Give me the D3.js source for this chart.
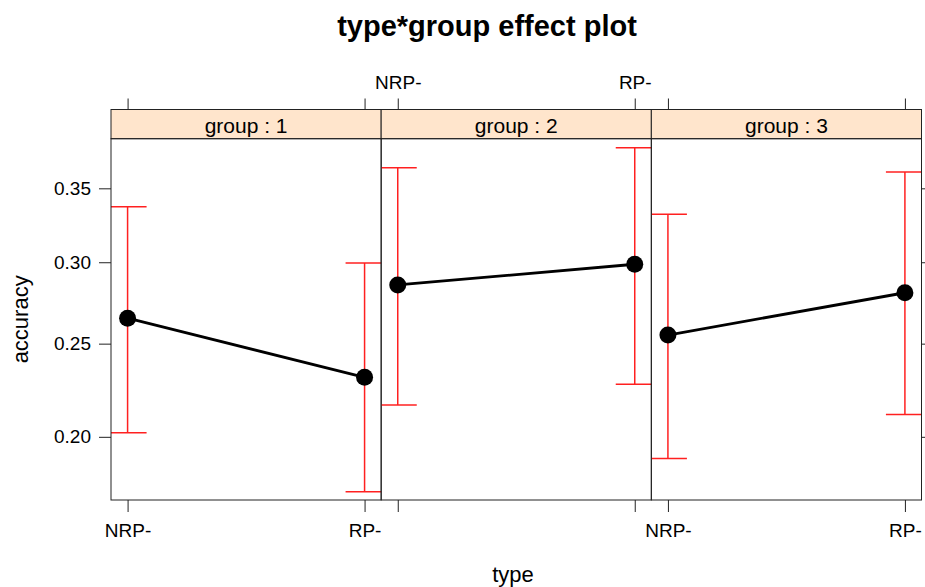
<!DOCTYPE html>
<html>
<head>
<meta charset="utf-8">
<script src="https://cdn.jsdelivr.net/npm/d3@7"></script>
<style>
  body { margin: 0; background: #fff; }
  text { font-family: "Liberation Sans", Arial, sans-serif; fill: #000; }
</style>
</head>
<body>
<div id="chart"></div>
<script>
// effect plot data
const groups = ["1", "2", "3"]
const types = ["NRP-", "RP-"]
const fitG1 = [0.265, 0.231]
const fitG2 = [0.2855, 0.2987]
const fitG3 = [0.255, 0.2806]
const lowerG1 = [0.202, 0.1742]
const lowerG2 = [0.2162, 0.2273]
const lowerG3 = [0.1895, 0.2113]
const upperG1 = [0.3372, 0.2995]
const upperG2 = [0.3646, 0.379]
const upperG3 = [0.332, 0.3616]
const yTicks = [0.20, 0.25, 0.30, 0.35]

const fits = [fitG1, fitG2, fitG3]
const lowers = [lowerG1, lowerG2, lowerG3]
const uppers = [upperG1, upperG2, upperG3]

var width = 925
var height = 587
var left = 111, right = 921.5
var stripTop = 109.5, panelTop = 138.7, panelBottom = 500

var logit = function(p) { return Math.log(p / (1 - p)) }

// y is on the logit scale, labels in probabilities
let yScale = d3.scaleLinear()
  .domain([logit(0.1706), logit(0.3856)])
  .range([panelBottom, panelTop])
var y = function(p) { return yScale(logit(p)) }

let panelScale = d3.scaleBand()
  .domain(groups)
  .range([left, right])

var svg = d3.select("#chart").append("svg")
  .attr("width", width)
  .attr("height", height)

svg.append("text")
  .attr("x", 487)
  .attr("y", 36)
  .attr("text-anchor", "middle")
  .style("font-weight", "bold")
  .style("font-size", "29px")
  .text("type*group effect plot")

groups.forEach(function(g, gi) {
  var x0 = panelScale(g), x1 = x0 + panelScale.bandwidth()
  let xScale = d3.scalePoint()
    .domain(types)
    .range([x0, x1])
    .padding(0.07)

  svg.append("clipPath").attr("id", "clip" + gi)
    .append("rect")
    .attr("x", x0).attr("y", panelTop)
    .attr("width", x1 - x0).attr("height", panelBottom - panelTop)

  var panel = svg.append("g")

  // strip
  panel.append("rect")
    .attr("x", x0).attr("y", stripTop)
    .attr("width", x1 - x0).attr("height", panelTop - stripTop)
    .style("fill", "#ffe5cc")
    .style("stroke", "#222")
  panel.append("text")
    .attr("x", (x0 + x1) / 2)
    .attr("y", panelTop - 6)
    .attr("text-anchor", "middle")
    .style("font-size", "21px")
    .text("group : " + g)

  // error bars
  var bars = panel.append("g").attr("clip-path", "url(#clip" + gi + ")")
  types.forEach(function(t, ti) {
    var cx = xScale(t)
    bars.append("line")
      .attr("x1", cx).attr("x2", cx)
      .attr("y1", y(lowers[gi][ti])).attr("y2", y(uppers[gi][ti]))
      .style("stroke", "#ff2020").style("stroke-width", 1.5)
    ;[lowers[gi][ti], uppers[gi][ti]].forEach(function(v) {
      bars.append("line")
        .attr("x1", cx - 19).attr("x2", cx + 19)
        .attr("y1", y(v)).attr("y2", y(v))
        .style("stroke", "#ff2020").style("stroke-width", 1.5)
    })
  })

  var valueline = d3.line()
    .x(function(d, i) { return xScale(types[i]) })
    .y(function(d) { return y(d) })
  panel.append("path")
    .datum(fits[gi])
    .attr("d", valueline)
    .style("fill", "none")
    .style("stroke", "#000")
    .style("stroke-width", 2.8)

  panel.selectAll("circle")
    .data(fits[gi])
    .enter()
    .append("circle")
    .attr("cx", function(d, i) { return xScale(types[i]) })
    .attr("cy", function(d) { return y(d) })
    .attr("r", 8.5)
    .style("fill", "#000")

  // panel box
  panel.append("rect")
    .attr("x", x0).attr("y", panelTop)
    .attr("width", x1 - x0).attr("height", panelBottom - panelTop)
    .style("fill", "none")
    .style("stroke", "#222")

  // bottom axis, labels on panels 1 and 3
  var xb = svg.append("g")
    .attr("transform", "translate(0," + panelBottom + ")")
    .call(d3.axisBottom(xScale).tickSize(12).tickPadding(12)
      .tickFormat(gi % 2 == 0 ? null : function() { return "" }))
  // top axis, labels on panel 2
  var xt = svg.append("g")
    .attr("transform", "translate(0," + stripTop + ")")
    .call(d3.axisTop(xScale).tickSize(11).tickPadding(10)
      .tickFormat(gi % 2 == 1 ? null : function() { return "" }))
  ;[xb, xt].forEach(function(a) {
    a.select(".domain").remove()
    a.selectAll("line").style("stroke", "#222")
    a.selectAll("text").style("font-size", "19px").style("fill", "#000")
  })
})

var ya = svg.append("g")
  .attr("transform", "translate(" + left + ",0)")
  .call(d3.axisLeft(yScale).tickValues(yTicks.map(logit)).tickSize(12).tickPadding(8)
    .tickFormat(function(d, i) { return yTicks[i].toFixed(2) }))
var yr = svg.append("g")
  .attr("transform", "translate(" + right + ",0)")
  .call(d3.axisRight(yScale).tickValues(yTicks.map(logit)).tickSize(12)
    .tickFormat(function() { return "" }))
;[ya, yr].forEach(function(a) {
  a.select(".domain").remove()
  a.selectAll("line").style("stroke", "#222")
  a.selectAll("text").style("font-size", "19px").style("fill", "#000")
})

svg.append("text")
  .attr("x", 513)
  .attr("y", 582)
  .attr("text-anchor", "middle")
  .style("font-size", "22px")
  .text("type")

svg.append("text")
  .attr("transform", "translate(28," + (panelTop + panelBottom) / 2 + ") rotate(-90)")
  .attr("text-anchor", "middle")
  .style("font-size", "22px")
  .text("accuracy")
</script>
</body>
</html>
